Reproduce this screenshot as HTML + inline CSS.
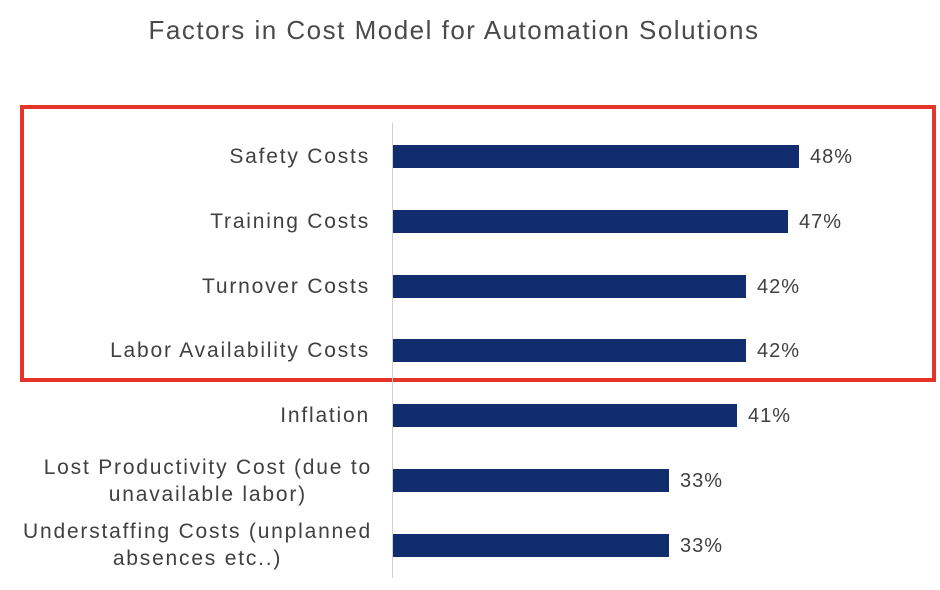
<!DOCTYPE html>
<html><head><style>
body{margin:0;width:940px;height:590px;background:#fff;position:relative;overflow:hidden;font-family:"Liberation Sans",sans-serif;color:#404040}
.t{position:absolute;left:0;width:908px;text-align:center;top:15px;font-size:26px;color:#4a4a4a;letter-spacing:1.5px}
.box{position:absolute;left:20px;top:105px;width:908px;height:269px;border:4px solid #e5352b}
.ax{position:absolute;left:392px;top:123px;width:1px;height:455px;background:#d0d0d0}
.b{position:absolute;left:393px;height:23px;background:#112d6e}
.v{position:absolute;font-size:20px;color:#404040;letter-spacing:1px}
.l{position:absolute;right:570px;text-align:right;font-size:21px;line-height:27px;color:#404040;letter-spacing:1.8px;white-space:nowrap}
</style></head><body>
<div class="t">Factors in Cost Model for Automation Solutions</div>
<div class="box"></div>
<div class="ax"></div>
<div class="b" style="top:145px;width:406px"></div><div class="v" style="left:810px;top:146px">48%</div>
<div class="b" style="top:210px;width:395px"></div><div class="v" style="left:799px;top:211px">47%</div>
<div class="b" style="top:275px;width:353px"></div><div class="v" style="left:757px;top:276px">42%</div>
<div class="b" style="top:339px;width:353px"></div><div class="v" style="left:757px;top:340px">42%</div>
<div class="b" style="top:404px;width:344px"></div><div class="v" style="left:748px;top:405px">41%</div>
<div class="b" style="top:469px;width:276px"></div><div class="v" style="left:680px;top:470px">33%</div>
<div class="b" style="top:534px;width:276px"></div><div class="v" style="left:680px;top:535px">33%</div>
<div class="l" style="top:143px">Safety Costs</div>
<div class="l" style="top:208px">Training Costs</div>
<div class="l" style="top:273px">Turnover Costs</div>
<div class="l" style="top:337px">Labor Availability Costs</div>
<div class="l" style="top:402px">Inflation</div>
<div class="l" style="top:454px;text-align:center;right:568px">Lost Productivity Cost (due to<br>unavailable labor)</div>
<div class="l" style="top:518px;text-align:center;right:568px">Understaffing Costs (unplanned<br>absences etc..)</div>
</body></html>
